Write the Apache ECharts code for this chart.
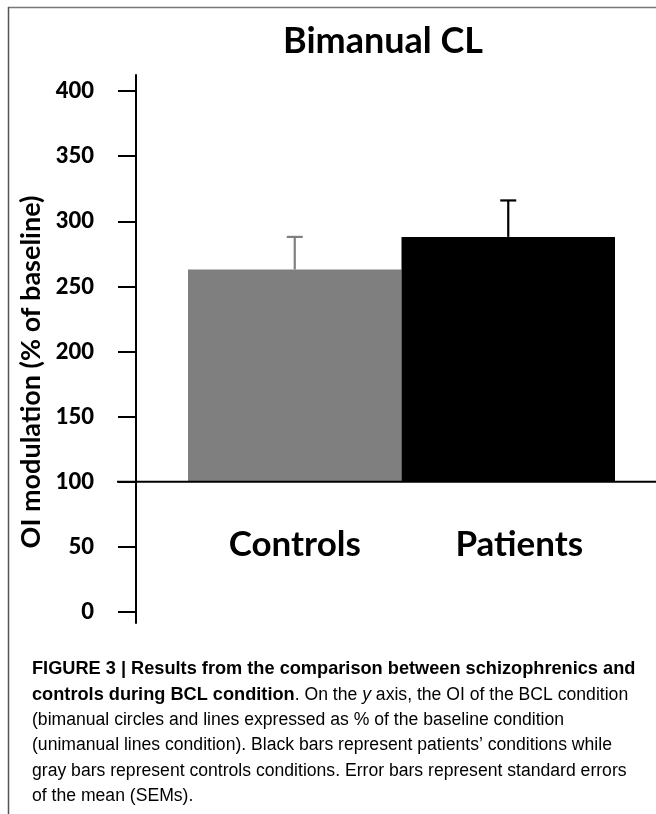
<!DOCTYPE html>
<html>
<head>
<meta charset="utf-8">
<style>
  html, body { margin: 0; padding: 0; background: #fff; }
  #chart { width: 656px; height: 814px; }
</style>
<script src="https://cdn.jsdelivr.net/npm/echarts@6/dist/echarts.min.js"></script>
</head>
<body>
<div id="chart"></div>
<script>
// Group means of OI modulation (% of baseline) and their standard errors
const categories = ['Controls', 'Patients'];
const meanValues = [263, 288];
const semValues = [25, 28];
const baselineValue = 100;
const yTickValues = [0, 50, 100, 150, 200, 250, 300, 350, 400];

const barColors = ['#7f7f7f', '#000000'];
const Y_MIN = -8.4, Y_MAX = 412.3;

const captionLines = [
  '{b|FIGURE 3 | Results from the comparison between schizophrenics and}',
  '{b|controls during BCL condition}{r|. On the }{i|y}{r| axis, the OI of the BCL condition}',
  '{r|(bimanual circles and lines expressed as % of the baseline condition}',
  '{r|(unimanual lines condition). Black bars represent patients\u2019 conditions while}',
  '{r|gray bars represent controls conditions. Error bars represent standard errors}',
  '{r|of the mean (SEMs).}'
];
const captionBaselines = [675, 701, 726, 751, 777, 802];

const chart = echarts.init(document.getElementById('chart'), null, { renderer: 'canvas' });

const captionRich = {
  b: { fontFamily: 'Liberation Sans', fontWeight: 'bold', fontSize: 18.2, color: '#231f20' },
  r: { fontFamily: 'Liberation Sans', fontSize: 17.6, color: '#4a4a4a' },
  i: { fontFamily: 'Liberation Sans', fontSize: 17.6, fontStyle: 'italic', color: '#4a4a4a' }
};

const graphics = [
  // open frame: top and left rules
  { type: 'line', shape: { x1: 8, y1: 7.5, x2: 656, y2: 7.5 }, style: { stroke: '#777', lineWidth: 1.5 }, silent: true },
  { type: 'line', shape: { x1: 8.5, y1: 7, x2: 8.5, y2: 814 }, style: { stroke: '#555', lineWidth: 1.5 }, silent: true },
  // vertical axis title
  {
    type: 'text', x: 31, y: 372, rotation: Math.PI / 2,
    style: {
      text: 'OI modulation (% of baseline)', fontFamily: 'Lato', fontWeight: 'bold',
      fontSize: 27, fill: '#000', align: 'center', verticalAlign: 'middle'
    },
    silent: true
  }
].concat(captionLines.map((line, k) => ({
  type: 'text', x: 32, y: captionBaselines[k] - 6,
  style: { text: line, rich: captionRich, verticalAlign: 'middle', align: 'left' },
  silent: true
})));

chart.setOption({
  animation: false,
  backgroundColor: '#fff',
  textStyle: { fontFamily: 'Lato' },
  title: {
    text: 'Bimanual CL', left: 278, top: 18,
    textStyle: { fontFamily: 'Lato', fontWeight: 'bold', fontSize: 36, color: '#000' }
  },
  graphic: graphics,
  grid: [
    { left: 188, right: 41, top: 75, bottom: 191 },
    { left: 117, right: 0, top: 75, bottom: 191 }
  ],
  xAxis: [
    {
      type: 'category', gridIndex: 0,
      data: categories.map((c, i) => i === 1
        ? { value: c, textStyle: { padding: [0, 0, 0, 22], verticalAlign: 'middle' } }
        : { value: c }),
      axisLine: { show: false }, axisTick: { show: false }, splitLine: { show: false },
      axisLabel: {
        margin: -78, verticalAlign: 'middle', fontFamily: 'Lato', fontWeight: 'bold',
        fontSize: 35, color: '#000'
      }
    },
    { type: 'value', gridIndex: 1, min: 0, max: 1, show: false }
  ],
  yAxis: [
    {
      type: 'value', gridIndex: 0, min: Y_MIN, max: Y_MAX, offset: 52,
      axisLine: { show: true, lineStyle: { color: '#000', width: 2 } },
      axisTick: { show: true, length: 18, customValues: yTickValues, lineStyle: { color: '#000', width: 2 } },
      axisLabel: {
        customValues: yTickValues, margin: 42, fontFamily: 'Lato', fontWeight: 900,
        fontSize: 22, color: '#000'
      },
      splitLine: { show: false }
    },
    { type: 'value', gridIndex: 1, min: Y_MIN, max: Y_MAX, show: false }
  ],
  series: [
    {
      // bars rise from the 100 % baseline
      type: 'custom', name: 'Mean', xAxisIndex: 0, yAxisIndex: 0, z: 2,
      data: meanValues.map((v, i) => [i, v]),
      renderItem: function (params, api) {
        const i = api.value(0);
        const top = api.coord([i, api.value(1)]);
        const bottom = api.coord([i, baselineValue]);
        const w = api.size([1, 0])[0];
        return {
          type: 'rect',
          shape: { x: top[0] - w / 2, y: top[1], width: w, height: bottom[1] - top[1] },
          style: { fill: barColors[i] }
        };
      }
    },
    {
      // upper SEM whiskers
      type: 'custom', name: 'SEM', xAxisIndex: 0, yAxisIndex: 0, z: 3,
      data: meanValues.map((v, i) => [i, v, v + semValues[i]]),
      renderItem: function (params, api) {
        const i = api.value(0);
        const from = api.coord([i, api.value(1)]);
        const to = api.coord([i, api.value(2)]);
        const style = { stroke: barColors[i], lineWidth: 2.2 };
        return {
          type: 'group',
          children: [
            { type: 'line', shape: { x1: from[0], y1: from[1], x2: to[0], y2: to[1] }, style: style },
            { type: 'line', shape: { x1: to[0] - 8, y1: to[1], x2: to[0] + 8, y2: to[1] }, style: style }
          ]
        };
      }
    },
    {
      // horizontal reference at the 100 % baseline
      type: 'line', name: 'Baseline', xAxisIndex: 1, yAxisIndex: 1, z: 4,
      data: [[0, baselineValue], [1, baselineValue]],
      symbol: 'none', silent: true,
      lineStyle: { color: '#000', width: 2 }
    }
  ]
});
</script>
</body>
</html>
